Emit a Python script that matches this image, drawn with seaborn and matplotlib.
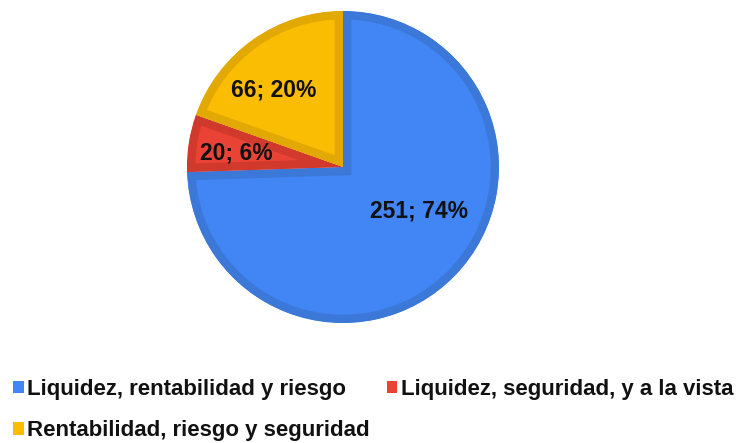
import matplotlib.pyplot as plt
import numpy as np
import seaborn as sns

# chart values
categories = ["Liquidez, rentabilidad y riesgo",
              "Liquidez, seguridad, y a la vista",
              "Rentabilidad, riesgo y seguridad"]
counts = [251, 20, 66]

colors = ["#4285F4", "#EA4335", "#FBBC04"]
edge_colors = ["#3C78D8", "#D1392D", "#E2A803"]
# label placement inside each slice (radius fraction, angle shift in degrees)
label_dist = [0.56, 0.69, 0.667]
label_shift = [14, 1.2, 6.7]

sns.set_theme(style="white")
plt.rcParams["font.family"] = ["Liberation Sans", "DejaVu Sans"]

fig = plt.figure(figsize=(7.45, 4.43), dpi=100)
r_px = 156
cx, cy = 343, 167
ax = fig.add_axes([(cx - r_px) / 745, 1 - (cy + r_px) / 443,
                   2 * r_px / 745, 2 * r_px / 443])

wedges, _ = ax.pie(counts, colors=colors, startangle=90, counterclock=False,
                   radius=1.0)
ax.set_xlim(-1, 1)
ax.set_ylim(-1, 1)
ax.set_aspect("equal")
ax.axis("off")

total = sum(counts)
for w, ec, n, d, s in zip(wedges, edge_colors, counts, label_dist, label_shift):
    # inner border: stroke clipped to the wedge outline
    w.set_edgecolor(ec)
    w.set_linewidth(12)
    w.set_clip_on(True)
    w.set_clip_path(w)
    mid = np.deg2rad((w.theta1 + w.theta2) / 2 + s)
    ax.text(d * np.cos(mid), d * np.sin(mid),
            f"{n}; {round(100 * n / total)}%",
            ha="center", va="center", fontsize=16.5, fontweight="bold",
            color="#111111")

# row-wise order: blue, red on first row, yellow on second
order = [0, 2, 1]
leg = fig.legend([wedges[i] for i in order], [categories[i] for i in order],
                 loc="upper left", bbox_to_anchor=(13 / 745, 1 - 379 / 443),
                 ncol=2, frameon=False, borderpad=0, borderaxespad=0,
                 handlelength=0.48, handleheight=0.48, handletextpad=0.17,
                 columnspacing=0.75, labelspacing=0.92,
                 prop={"size": 16, "weight": "bold"})
for h in leg.legend_handles:
    h.set_linewidth(0)
for t in leg.get_texts():
    t.set_color("#111111")

fig.savefig("out.png", dpi=100)
